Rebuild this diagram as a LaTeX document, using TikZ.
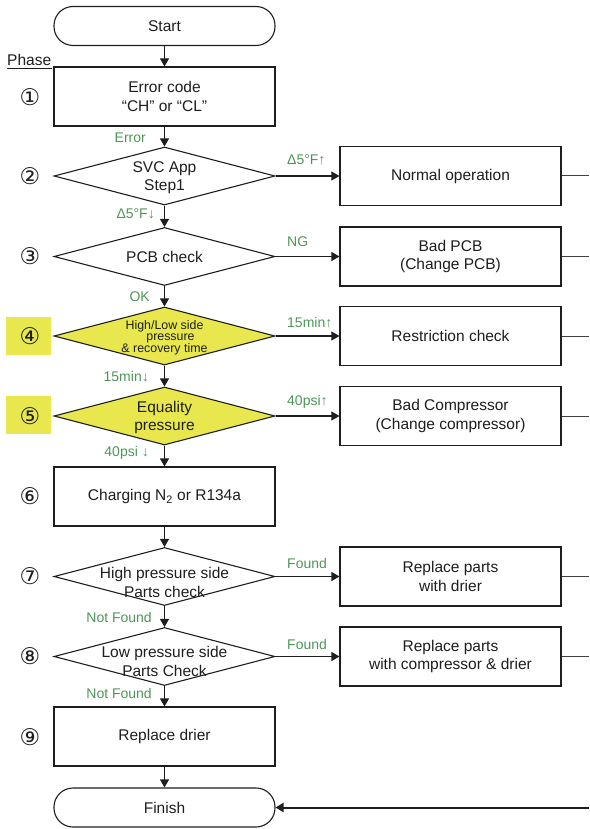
\documentclass[tikz,border=0pt]{standalone}
\usepackage{fontspec}
\setmainfont{Liberation Sans}
\newfontfamily\circfont{DejaVu Sans}
\usetikzlibrary{shapes.geometric,arrows.meta}
\definecolor{lblgreen}{RGB}{78,150,88}
\definecolor{hlyellow}{RGB}{232,232,78}
\definecolor{ink}{RGB}{30,30,30}
\newcommand\mainsz{\fontsize{15.5}{18.5}\selectfont}
\newcommand\lblsz{\fontsize{14}{16}\selectfont}
\newcommand\smallsz{\fontsize{12.4}{11.7}\selectfont}
\begin{document}
\begin{tikzpicture}[x=1pt,y=-1pt,
  procbox/.style={draw=ink, line width=1.1pt, minimum width=221pt, minimum height=59pt, inner sep=0pt, align=center, font=\mainsz, text=ink, fill=white},
  termbox/.style={draw=ink, line width=1.1pt, rounded corners=19pt, minimum width=221pt, minimum height=39pt, inner sep=0pt, font=\mainsz, text=ink},
  decbox/.style={draw=ink, line width=1.1pt, diamond, minimum width=221pt, minimum height=58pt, inner sep=0pt},
  dectext/.style={align=center, inner sep=0pt, font=\mainsz, text=ink},
  lbl/.style={text=lblgreen, font=\lblsz, inner sep=0pt},
  flow/.style={-{Triangle[length=8pt,width=9pt]}, line width=1.1pt, draw=ink},
  sideline/.style={line width=1pt, draw=ink!85},
  phasenum/.style={font=\circfont\fontsize{23}{23}\selectfont, inner sep=0pt, text=ink},
  hlbox/.style={fill=hlyellow, minimum width=45pt, minimum height=38pt, inner sep=0pt}
]
\useasboundingbox (0,0) rectangle (589,829);

% Phase header
\node[anchor=base west, inner sep=0pt, font=\mainsz, text=ink] (phase) at (7,65.5) {Phase};
\draw[ink, line width=0.9pt] (7,68) -- (52,68);

% highlight squares
\node[hlbox] (hl4) at (28.5,335.5) {};
\node[hlbox] (hl5) at (28.5,415) {};

% phase numbers
\node[phasenum] (p1) at (30,97) {①};
\node[phasenum] (p2) at (30,176) {②};
\node[phasenum] (p3) at (30,256.5) {③};
\node[phasenum] (p4) at (30,336) {④};
\node[phasenum] (p5) at (30,416) {⑤};
\node[phasenum] (p6) at (30,496.5) {⑥};
\node[phasenum] (p7) at (30,576.5) {⑦};
\node[phasenum] (p8) at (30,656.5) {⑧};
\node[phasenum] (p9) at (30,737) {⑨};

% main column
\node[termbox] (start) at (164.5,26) {Start};
\node[procbox] (b1) at (164.5,96.5) {Error code\\“CH” or “CL”};
\node[decbox] (d2) at (164.5,176) {};
\node[dectext] (d2t) at (164.5,177.5) {SVC App\\Step1};
\node[decbox] (d3) at (164.5,256.5) {};
\node[dectext] (d3t) at (164.5,257) {PCB check};
\node[decbox, fill=hlyellow] (d4) at (164.5,336) {};
\node[dectext, font=\smallsz] (d4t) at (164.5,337.5) {High/Low side\\\hspace*{12pt}pressure\\\& recovery time};
\node[decbox, fill=hlyellow] (d5) at (164.5,416) {};
\node[dectext] (d5t) at (164.5,417.5) {Equality\\pressure};
\node[procbox] (b6) at (164.5,496.5) {Charging N\textsubscript{2} or R134a};
\node[decbox] (d7) at (164.5,576.5) {};
\node[dectext] (d7t) at (164.5,582.5) {High pressure side\\Parts check};
\node[decbox] (d8) at (164.5,656.5) {};
\node[dectext] (d8t) at (164.5,661.5) {Low pressure side\\Parts Check};
\node[procbox] (b9) at (164.5,736.5) {Replace drier};
\node[termbox] (finish) at (164.5,807.5) {Finish};

% right column
\node[procbox] (r2) at (450.5,176) {Normal operation};
\node[procbox] (r3) at (450.5,256.5) {Bad PCB\\(Change PCB)};
\node[procbox] (r4) at (450.5,336) {Restriction check};
\node[procbox] (r5) at (450.5,416) {Bad Compressor\\(Change compressor)};
\node[procbox] (r7) at (450.5,576.5) {Replace parts\\with drier};
\node[procbox] (r8) at (450.5,656.5) {Replace parts\\with compressor \& drier};

% right edge coordinates
\coordinate (e2) at (589,176);
\coordinate (e3) at (589,256.5);
\coordinate (e4) at (589,336);
\coordinate (e5) at (589,416);
\coordinate (e7) at (589,576.5);
\coordinate (e8) at (589,656.5);
\coordinate (efin) at (589,807.5);

% vertical flow
\draw[flow] (start) -- (b1);
\draw[flow] (b1) -- (d2);
\draw[flow] (d2) -- (d3);
\draw[flow] (d3) -- (d4);
\draw[flow] (d4) -- (d5);
\draw[flow] (d5) -- (b6);
\draw[flow] (b6) -- (d7);
\draw[flow] (d7) -- (d8);
\draw[flow] (d8) -- (b9);
\draw[flow] (b9) -- (finish);

% horizontal flow
\draw[flow] (d2) -- (r2);
\draw[flow] (d3) -- (r3);
\draw[flow] (d4) -- (r4);
\draw[flow] (d5) -- (r5);
\draw[flow] (d7) -- (r7);
\draw[flow] (d8) -- (r8);

% right-edge lines
\draw[sideline] (r2) -- (e2);
\draw[sideline] (r3) -- (e3);
\draw[sideline] (r4) -- (e4);
\draw[sideline] (r5) -- (e5);
\draw[sideline] (r7) -- (e7);
\draw[sideline] (r8) -- (e8);
\draw[flow, line width=2pt] (efin) -- (finish);

% labels on vertical connectors
\node[lbl, anchor=east] (l1) at (146,138) {Error};
\node[lbl, anchor=east] (l2) at (155,214) {Δ5°F↓};
\node[lbl, anchor=east] (l3) at (150,297) {OK};
\node[lbl, anchor=east] (l4) at (149,377) {15min↓};
\node[lbl, anchor=east] (l5) at (149,453) {40psi ↓};
\node[lbl, anchor=east] (l7) at (152,617) {Not Found};
\node[lbl, anchor=east] (l8) at (152,693.5) {Not Found};

% labels on horizontal connectors
\node[lbl, anchor=west] (h2) at (287,160) {Δ5°F↑};
\node[lbl, anchor=west] (h3) at (287,242) {NG};
\node[lbl, anchor=west] (h4) at (287,323) {15min↑};
\node[lbl, anchor=west] (h5) at (287,402) {40psi↑};
\node[lbl, anchor=west] (h7) at (287,563) {Found};
\node[lbl, anchor=west] (h8) at (287,644) {Found};
\end{tikzpicture}
\end{document}
